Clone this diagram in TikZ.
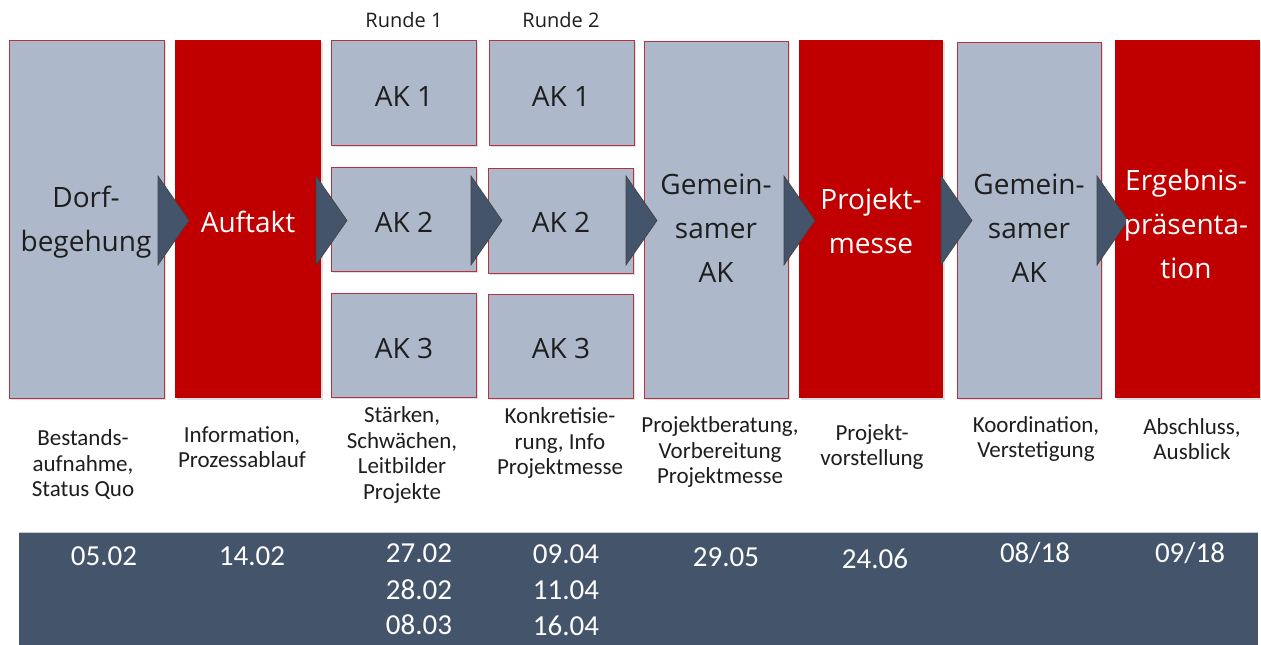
\documentclass[tikz,border=0pt]{standalone}
\usepackage{fontspec}
\setmainfont{Open Sans}
\newfontfamily\calib{Carlito}
\usetikzlibrary{shadows}
\definecolor{boxgray}{HTML}{ADB9CA}
\definecolor{boxred}{HTML}{C00000}
\definecolor{slate}{HTML}{44546A}
\definecolor{edgered}{HTML}{B4333C}
\definecolor{txtdark}{HTML}{1E1E1E}
\begin{document}
\begin{tikzpicture}[x=1pt,y=-1pt,
  boxbase/.style={anchor=north west, inner sep=0pt, outer sep=0pt,
    drop shadow={shadow xshift=1.5pt, shadow yshift=-1.5pt, opacity=0.25}},
  graybox/.style={boxbase, draw=edgered, line width=0.8pt, fill=boxgray},
  redbox/.style={boxbase, fill=boxred},
  biglabel/.style={align=center, inner sep=0pt, text=txtdark,
    font=\fontsize{28}{44}\selectfont},
  biglabelw/.style={biglabel, text=white},
  roundlabel/.style={inner sep=0pt, text=txtdark, font=\fontsize{20}{24}\selectfont},
  caption/.style={align=center, inner sep=0pt, text=txtdark,
    font=\calib\fontsize{23}{25.5}\selectfont},
  datelabel/.style={inner sep=0pt, text=white,
    font=\calib\fontsize{29}{30}\selectfont},
  tristyle/.style={fill=slate, draw=black!75, line width=0.6pt, line join=miter}
]
\useasboundingbox (0,0) rectangle (1261,645);
\fill[white] (0,0) rectangle (1261,645);

% boxes
\node[graybox, minimum width=155pt, minimum height=358pt] (b1) at (9,40) {};
\node[redbox,  minimum width=146pt, minimum height=358pt] (b2) at (175,40) {};
\node[graybox, minimum width=145pt, minimum height=105pt] (r1a) at (331,40) {};
\node[graybox, minimum width=145pt, minimum height=104pt] (r1b) at (331,167) {};
\node[graybox, minimum width=145pt, minimum height=104pt] (r1c) at (331,293) {};
\node[graybox, minimum width=145pt, minimum height=105pt] (r2a) at (489,40) {};
\node[graybox, minimum width=145pt, minimum height=105pt] (r2b) at (488,168) {};
\node[graybox, minimum width=145pt, minimum height=104pt] (r2c) at (488,294) {};
\node[graybox, minimum width=144pt, minimum height=357pt] (b5) at (644,41) {};
\node[redbox,  minimum width=144pt, minimum height=358pt] (b6) at (799,40) {};
\node[graybox, minimum width=144pt, minimum height=356pt] (b7) at (957,42) {};
\node[redbox,  minimum width=145pt, minimum height=358pt] (b8) at (1115,40) {};

% flow triangles
\foreach \x in {158,316,471,626,784,941,1097}{
  \draw[tristyle] (\x,176) -- (\x,265) -- ({\x+31},220.5) -- cycle;
}

% box labels
\node[biglabel]  (t1) at (86,222) {Dorf-\\begehung};
\node[biglabelw] (t2) at (248,222) {Auftakt};
\node[biglabel]  (t3a) at (404,96) {AK 1};
\node[biglabel]  (t3b) at (404,222) {AK 2};
\node[biglabel]  (t3c) at (404,348) {AK 3};
\node[biglabel]  (t4a) at (561,96) {AK 1};
\node[biglabel]  (t4b) at (561,222) {AK 2};
\node[biglabel]  (t4c) at (561,348) {AK 3};
\node[biglabel]  (t5) at (716,228) {Gemein-\\samer\\AK};
\node[biglabelw] (t6) at (871,221) {Projekt-\\messe};
\node[biglabel]  (t7) at (1029,228) {Gemein-\\samer\\AK};
\node[biglabelw] (t8) at (1186,224) {Ergebnis-\\präsenta-\\tion};

\node[roundlabel] (run1) at (404,20) {Runde 1};
\node[roundlabel] (run2) at (561,20) {Runde 2};

% captions
\node[caption] (c1) at (83,465) {Bestands-\\aufnahme,\\Status Quo};
\node[caption] (c2) at (242,447) {Information,\\Prozessablauf};
\node[caption] (c3) at (402,455) {Stärken,\\Schwächen,\\Leitbilder\\Projekte};
\node[caption] (c4) at (560,443) {Konkretisie-\\rung, Info\\Projektmesse};
\node[caption] (c5) at (720,452) {Projektberatung,\\Vorbereitung\\Projektmesse};
\node[caption] (c6) at (872,447) {Projekt-\\vorstellung};
\node[caption] (c7) at (1036,439) {Koordination,\\Verstetigung};
\node[caption] (c8) at (1192,439) {Abschluss,\\Ausblick};

% date band
\fill[slate] (19,532) rectangle (1258,645);
\draw[white!70!slate, line width=0.8pt] (19,532) -- (1258,532);
\node[datelabel] (d1) at (104,556) {05.02};
\node[datelabel] (d2) at (252,556) {14.02};
\node[datelabel] (d3a) at (419,553) {27.02};
\node[datelabel] (d3b) at (419,590) {28.02};
\node[datelabel] (d3c) at (419,625) {08.03};
\node[datelabel] (d4a) at (566,554) {09.04};
\node[datelabel] (d4b) at (566,590) {11.04};
\node[datelabel] (d4c) at (566,626) {16.04};
\node[datelabel] (d5) at (726,557) {29.05};
\node[datelabel] (d6) at (875,559) {24.06};
\node[datelabel] (d7) at (1035,553) {08/18};
\node[datelabel] (d8) at (1190,553) {09/18};
\end{tikzpicture}
\end{document}
